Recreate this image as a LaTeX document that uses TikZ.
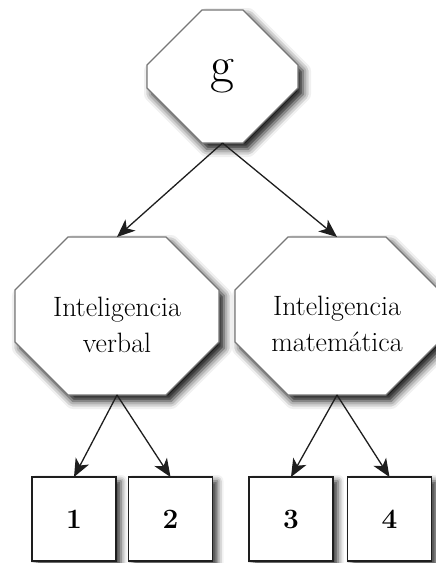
\documentclass[tikz,border=0pt]{standalone}
\usetikzlibrary{arrows.meta,calc,shadows.blur}

\definecolor{octline}{HTML}{777777}
\definecolor{inkline}{HTML}{1E1E1E}

\tikzset{
  octnode/.style={rectangle, inner sep=0pt, outer sep=0pt},
  octborder/.style={draw=octline, line width=1.4pt, fill=white,
    blur shadow={shadow xshift=5pt, shadow yshift=-6pt,
      shadow blur radius=8pt, shadow opacity=95}},
  midtext/.style={align=center, inner sep=0pt,
    font=\fontsize{28}{36}\selectfont},
  itembox/.style={rectangle, draw=inkline, line width=1.6pt, fill=white,
    minimum width=84pt, minimum height=84pt, inner sep=0pt, outer sep=0pt,
    font=\bfseries\fontsize{28}{30}\selectfont,
    blur shadow={shadow xshift=5pt, shadow yshift=-4pt,
      shadow blur radius=6pt, shadow opacity=80}},
  link/.style={draw=inkline, line width=1.3pt,
    -{Stealth[length=18pt, width=15pt, inset=5pt]}}
}

\begin{document}
\begin{tikzpicture}[x=1pt, y=-1pt]
  \useasboundingbox (0,0) rectangle (436,563);

  % frames of the general factor and the two group factors
  \node[octnode, minimum width=151pt, minimum height=133pt] (g) at (222.5,76.5) {};
  \node[octnode, minimum width=204pt, minimum height=158pt] (vl) at (117,316) {};
  \node[octnode, minimum width=204pt, minimum height=158pt] (vm) at (337,316) {};

  % octagonal outlines with chamfered corners
  \foreach \n/\c in {g/55, vl/53, vm/53}
    \draw[octborder]
      ($(\n.north west)+(\c,0)$) -- ($(\n.north east)+(-\c,0)$) --
      ($(\n.north east)+(0,\c)$) -- ($(\n.south east)+(0,-\c)$) --
      ($(\n.south east)+(-\c,0)$) -- ($(\n.south west)+(\c,0)$) --
      ($(\n.south west)+(0,-\c)$) -- ($(\n.north west)+(0,\c)$) -- cycle;

  \node[inner sep=0pt, font=\fontsize{52}{60}\selectfont] (gtext) at (g.center) {g};
  \node[midtext] (vltext) at (117,325) {Inteligencia\\verbal};
  \node[midtext] (vmtext) at (337,324) {Inteligencia\\matemática};

  % specific tests
  \node[itembox] (t1) at (74,519) {1};
  \node[itembox] (t2) at (170.5,519) {2};
  \node[itembox] (t3) at (291,519) {3};
  \node[itembox] (t4) at (389.5,519) {4};

  % loadings
  \draw[link] (g.south) -- (vl.north);
  \draw[link] (g.south) -- (vm.north);
  \draw[link] (vl.south) -- (t1.north);
  \draw[link] (vl.south) -- (t2.north);
  \draw[link] (vm.south) -- (t3.north);
  \draw[link] (vm.south) -- (t4.north);
\end{tikzpicture}
\end{document}
